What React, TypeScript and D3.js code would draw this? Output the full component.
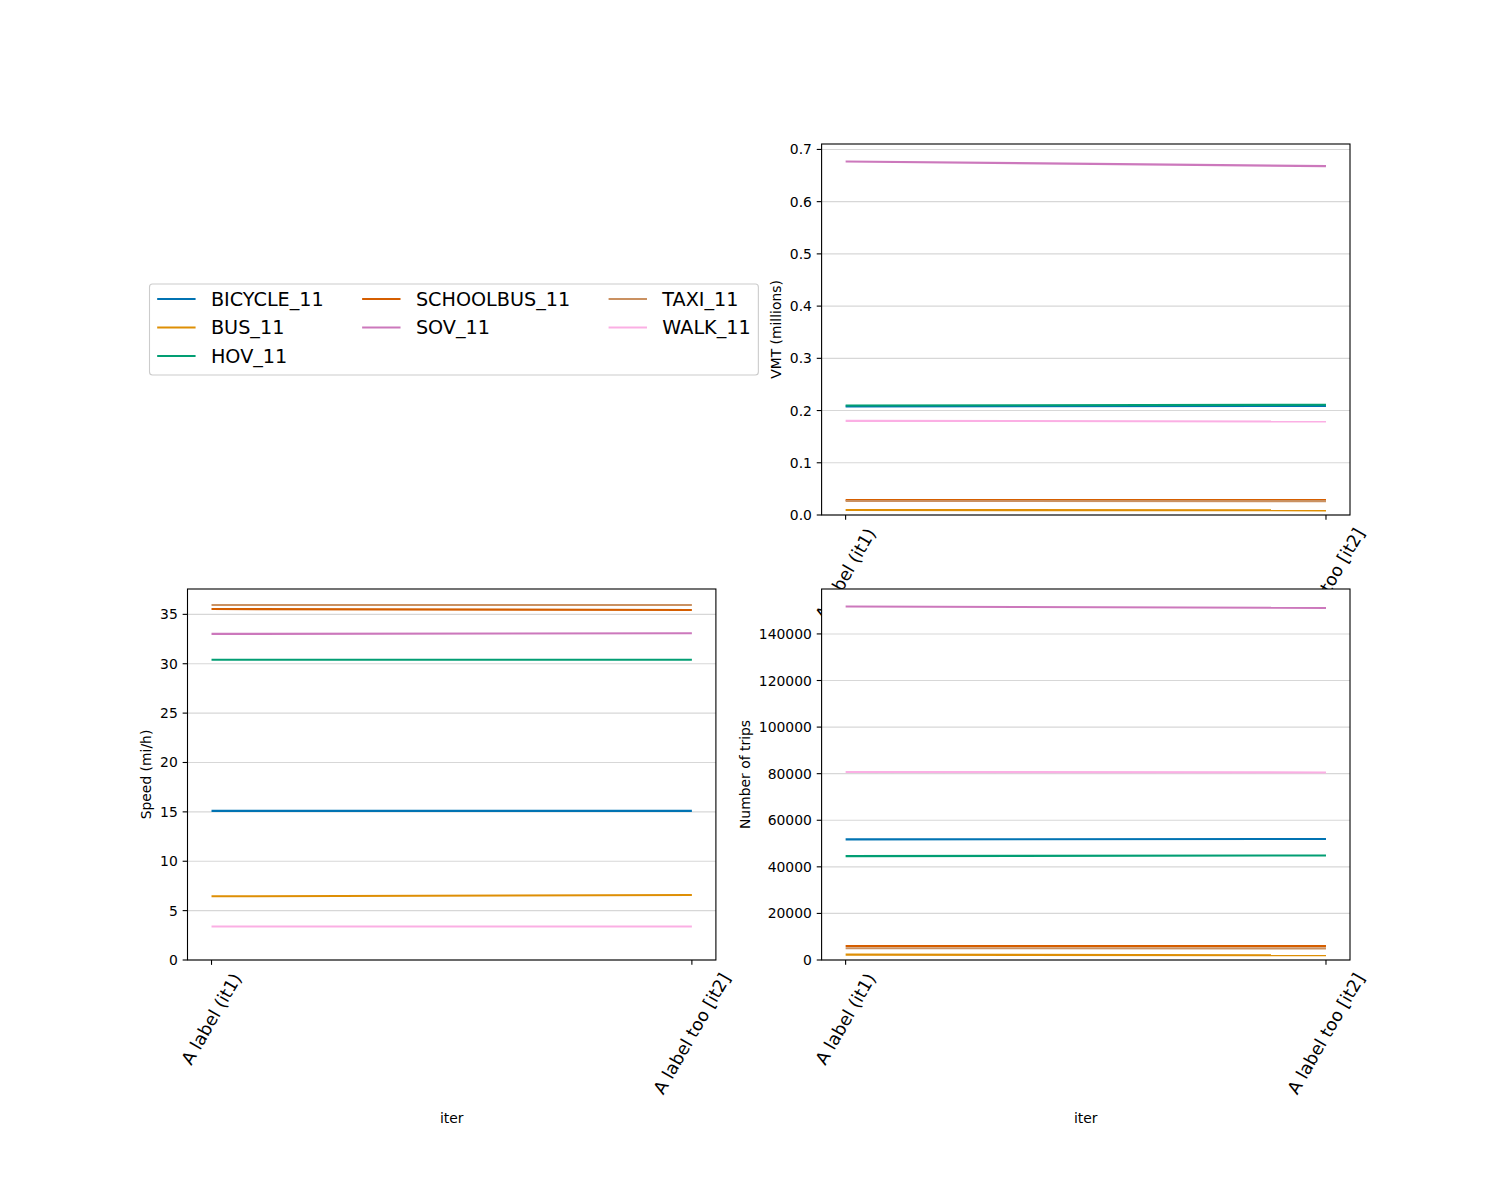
import { useEffect, useRef } from 'react';
import * as d3 from 'd3';

// travel modes, in plotting order
const MODES = ['BICYCLE_11', 'BUS_11', 'HOV_11', 'SCHOOLBUS_11', 'SOV_11', 'TAXI_11', 'WALK_11'];
const MODE_COLORS = ['#0173b2', '#de8f05', '#029e73', '#d55e00', '#cc78bc', '#ca9161', '#fbafe4'];

const ITER_LABELS = ['A label (it1)', 'A label too [it2]'];

// one [it1, it2] pair per mode
const VMT_MILLIONS = [
    [0.2076, 0.209],
    [0.0096, 0.0089],
    [0.2096, 0.211],
    [0.0287, 0.0285],
    [0.677, 0.668],
    [0.0268, 0.0266],
    [0.1803, 0.179],
];
const SPEED_MPH = [
    [15.1, 15.1],
    [6.45, 6.58],
    [30.4, 30.4],
    [35.54, 35.44],
    [33.02, 33.09],
    [35.94, 35.94],
    [3.39, 3.39],
];
const TRIPS = [
    [51800, 51940],
    [2300, 2010],
    [44600, 44890],
    [6040, 6040],
    [151800, 151200],
    [5040, 5000],
    [80740, 80520],
];

const VMT_TICKS = [0, 0.1, 0.2, 0.3, 0.4, 0.5, 0.6, 0.7];
const SPEED_TICKS = [0, 5, 10, 15, 20, 25, 30, 35];
const TRIP_TICKS = [0, 20000, 40000, 60000, 80000, 100000, 120000, 140000];

const FONT = '"DejaVu Sans", sans-serif';
const TICK_FS = 13.9;
const LABEL_FS = 13.9;
const XTICK_FS = 17.5;
const LEGEND_FS = 19.2;
const TICK_LEN = 4.86;
const TICK_PAD = 4.86;

const AX_W = 528.4;
const AX_H = 371;

const App = () => {
    const svgRef = useRef(null);

    useEffect(() => {
        if (!svgRef.current) return;
        const svg = d3.select(svgRef.current);
        svg.selectAll('*').remove();

        const panels = [
            { left: 821.6, top: 144, data: VMT_MILLIONS, ticks: VMT_TICKS, fmt: d3.format('.1f'), ylabel: 'VMT (millions)', xlabel: false },
            { left: 187.5, top: 589, data: SPEED_MPH, ticks: SPEED_TICKS, fmt: d3.format('d'), ylabel: 'Speed (mi/h)', xlabel: true },
            { left: 821.6, top: 589, data: TRIPS, ticks: TRIP_TICKS, fmt: d3.format('d'), ylabel: 'Number of trips', xlabel: true },
        ];

        panels.forEach((p) => {
            const g = svg.append('g').attr('transform', `translate(${p.left},${p.top})`);

            // y limits: zero at the bottom, 5% margin above the data
            const all = p.data.flat();
            const lo = d3.min(all);
            const hi = d3.max(all);
            const x = d3.scaleLinear().domain([-0.05, 1.05]).range([0, AX_W]);
            const y = d3.scaleLinear().domain([0, hi + 0.05 * (hi - lo)]).range([AX_H, 0]);

            g.append('rect').attr('width', AX_W).attr('height', AX_H).attr('fill', '#fff');

            // horizontal grid
            g.selectAll('.grid')
                .data(p.ticks)
                .enter()
                .append('line')
                .attr('x1', 0)
                .attr('x2', AX_W)
                .attr('y1', (d) => y(d))
                .attr('y2', (d) => y(d))
                .attr('stroke', '#b0b0b0')
                .attr('stroke-opacity', 0.5)
                .attr('stroke-width', 1.1);

            const line = d3
                .line()
                .x((d, i) => x(i))
                .y((d) => y(d));

            p.data.forEach((vals, i) => {
                g.append('path')
                    .datum(vals)
                    .attr('fill', 'none')
                    .attr('stroke', MODE_COLORS[i])
                    .attr('stroke-width', 2.08)
                    .attr('d', line);
            });

            g.append('rect')
                .attr('width', AX_W)
                .attr('height', AX_H)
                .attr('fill', 'none')
                .attr('stroke', '#000')
                .attr('stroke-width', 1.1);

            // y axis ticks
            let maxTickW = 0;
            p.ticks.forEach((t) => {
                g.append('line')
                    .attr('x1', -TICK_LEN)
                    .attr('x2', 0)
                    .attr('y1', y(t))
                    .attr('y2', y(t))
                    .attr('stroke', '#000')
                    .attr('stroke-width', 1.1);
                const txt = g
                    .append('text')
                    .attr('x', -TICK_LEN - TICK_PAD)
                    .attr('y', y(t))
                    .attr('text-anchor', 'end')
                    .attr('dominant-baseline', 'central')
                    .attr('font-family', FONT)
                    .attr('font-size', TICK_FS)
                    .text(p.fmt(t));
                maxTickW = Math.max(maxTickW, txt.node().getComputedTextLength());
            });

            g.append('text')
                .attr('transform', `translate(${-TICK_LEN - TICK_PAD - maxTickW - 5.6 - LABEL_FS * 0.58},${AX_H / 2}) rotate(-90)`)
                .attr('text-anchor', 'middle')
                .attr('dominant-baseline', 'central')
                .attr('font-family', FONT)
                .attr('font-size', LABEL_FS)
                .text(p.ylabel);

            // x axis ticks, labels rotated 60 degrees and centred under the tick
            const sin = Math.sin(Math.PI / 3);
            const cos = Math.cos(Math.PI / 3);
            ITER_LABELS.forEach((lab, i) => {
                g.append('line')
                    .attr('x1', x(i))
                    .attr('x2', x(i))
                    .attr('y1', AX_H)
                    .attr('y2', AX_H + TICK_LEN)
                    .attr('stroke', '#000')
                    .attr('stroke-width', 1.1);
                const txt = g
                    .append('text')
                    .attr('text-anchor', 'middle')
                    .attr('dominant-baseline', 'central')
                    .attr('font-family', FONT)
                    .attr('font-size', XTICK_FS)
                    .text(lab);
                const w = txt.node().getComputedTextLength();
                const h = XTICK_FS * 1.164;
                const bh = w * sin + h * cos;
                txt.attr('transform', `translate(${x(i)},${AX_H + TICK_LEN + TICK_PAD + bh / 2}) rotate(-60)`);
            });

            if (p.xlabel) {
                g.append('text')
                    .attr('x', AX_W / 2)
                    .attr('y', AX_H + 163)
                    .attr('text-anchor', 'middle')
                    .attr('font-family', FONT)
                    .attr('font-size', LABEL_FS)
                    .text('iter');
            }
        });

        // legend: three columns filled top to bottom, the first column takes the extra entry
        const fs = LEGEND_FS;
        const boxLeft = 149.5;
        const boxTop = 284;
        const ncol = 3;
        const rows = Math.ceil(MODES.length / ncol);
        const nLarge = MODES.length % ncol || ncol;
        const columns = [];
        let idx = 0;
        for (let c = 0; c < ncol; c++) {
            const n = c < nLarge ? rows : rows - 1;
            columns.push(d3.range(idx, idx + n));
            idx += n;
        }

        const leg = svg.append('g');
        const frame = leg.append('rect');
        let colStart = boxLeft + 0.4 * fs;
        columns.forEach((items, c) => {
            let colMax = 0;
            items.forEach((i, row) => {
                const cy = boxTop + 15 + row * 28.5;
                leg.append('line')
                    .attr('x1', colStart)
                    .attr('x2', colStart + 2 * fs)
                    .attr('y1', cy)
                    .attr('y2', cy)
                    .attr('stroke', MODE_COLORS[i])
                    .attr('stroke-width', 2.08);
                const t = leg
                    .append('text')
                    .attr('x', colStart + 2.8 * fs)
                    .attr('y', cy)
                    .attr('dominant-baseline', 'central')
                    .attr('font-family', FONT)
                    .attr('font-size', fs)
                    .text(MODES[i]);
                colMax = Math.max(colMax, t.node().getComputedTextLength());
            });
            colStart += 2.8 * fs + colMax + (c < ncol - 1 ? 2 * fs : 0);
        });
        const boxRight = colStart + 0.4 * fs;
        frame
            .attr('x', boxLeft)
            .attr('y', boxTop)
            .attr('width', boxRight - boxLeft)
            .attr('height', 91)
            .attr('rx', 3)
            .attr('fill', '#fff')
            .attr('fill-opacity', 0.8)
            .attr('stroke', '#cccccc')
            .attr('stroke-width', 1.1);
    }, []);

    return (
        <svg
            ref={svgRef}
            width={1500}
            height={1200}
            style={{ position: 'absolute', left: 0, top: 0, background: '#fff' }}
        ></svg>
    );
};

export default App;
